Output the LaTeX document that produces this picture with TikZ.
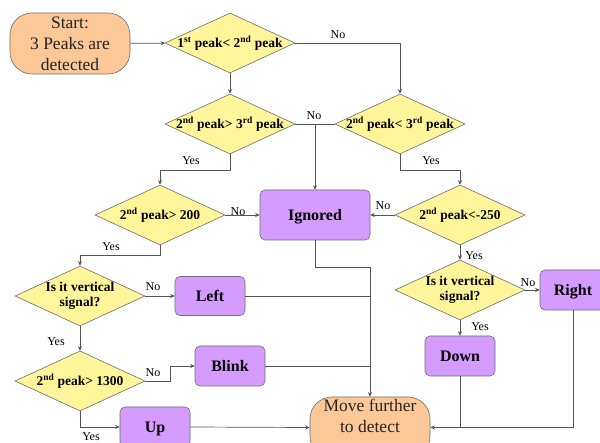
\documentclass[tikz,border=0pt]{standalone}
\usepackage{fontspec}
\setmainfont{Liberation Serif}
\usetikzlibrary{shapes.geometric,arrows.meta}
\definecolor{termc}{HTML}{FCC897}
\definecolor{decc}{HTML}{FFF59A}
\definecolor{actc}{HTML}{D69BFF}
\definecolor{edgec}{HTML}{555555}
\definecolor{bordc}{HTML}{6E6E6E}
\begin{document}
\begin{tikzpicture}[x=1pt,y=-1pt,
  dia/.style={diamond,draw=bordc,fill=decc,minimum width=130pt,minimum height=60pt,inner sep=0pt,line width=0.6pt},
  diatext/.style={font=\fontsize{13.5}{15}\selectfont\bfseries,align=center,inner sep=0pt},
  actbox/.style={rectangle,rounded corners=5pt,draw=bordc,fill=actc,minimum width=70pt,minimum height=40pt,inner sep=0pt,line width=0.6pt,font=\fontsize{16}{18}\selectfont\bfseries,text height=11pt,text depth=0pt},
  termbox/.style={rectangle,rounded corners=22pt,draw=bordc,fill=termc,minimum width=120pt,minimum height=61pt,inner sep=0pt,line width=0.6pt},
  termtext/.style={font=\fontsize{17.5}{21}\selectfont,align=center,text=black!85,inner sep=0pt},
  lbl/.style={font=\fontsize{12}{14}\selectfont,inner sep=0pt},
  ln/.style={draw=edgec,line width=0.7pt},
  arr/.style={ln,-{Stealth[length=4.5pt,width=4pt]}}]
\clip (0,0) rectangle (600,443);
\fill[white] (0,0) rectangle (600,443);

% terminals
\node[termbox] (start) at (70,43.5) {};
\node[termtext] at (start) {Start:\\3 Peaks are\\detected};
\node[termbox] (move) at (370,427.5) {};
\node[termtext,anchor=north] at (370,399) {Move further\\to detect};

% decisions
\node[dia] (d1) at (230,43) {};
\node[diatext] at (d1) {1\textsuperscript{st} peak< 2\textsuperscript{nd} peak};
\node[dia] (d2) at (230,124) {};
\node[diatext] at (d2) {2\textsuperscript{nd} peak> 3\textsuperscript{rd} peak};
\node[dia] (d3) at (400,124) {};
\node[diatext] at (d3) {2\textsuperscript{nd} peak< 3\textsuperscript{rd} peak};
\node[dia] (d4) at (160,215) {};
\node[diatext] at (d4) {2\textsuperscript{nd} peak> 200};
\node[dia] (d5) at (460,215) {};
\node[diatext] at (d5) {2\textsuperscript{nd} peak<-250};
\node[dia] (d6) at (80,296) {};
\node[diatext] at (d6) {Is it vertical\\signal?};
\node[dia] (d7) at (460,290) {};
\node[diatext] at (d7) {Is it vertical\\signal?};
\node[dia] (d8) at (80,381) {};
\node[diatext] at (d8) {2\textsuperscript{nd} peak> 1300};

% actions
\node[actbox,minimum width=110pt,minimum height=50pt] (ign) at (315,215) {Ignored};
\node[actbox,minimum height=39pt] (left) at (210,296) {Left};
\node[actbox,minimum width=66pt] (right) at (573,290) {Right};
\node[actbox] (down) at (460,356) {Down};
\node[actbox] (blink) at (230,366) {Blink};
\node[actbox] (up) at (155,427) {Up};

% junctions
\coordinate (j1) at (315,124);
\coordinate (j2) at (370,267);

% connectors
\draw[arr] (start) -- (d1);
\draw[arr] (d1.east) -| (d3.north);
\draw[arr] (d1.south) -- (d2.north);
\draw[ln] (d2.east) -- (d3.west);
\draw[arr] (j1) -- (ign.north);
\draw[arr] (d2.south) -- ++(0,16) -| (d4.north);
\draw[arr] (d3.south) -- ++(0,16) -| (d5.north);
\draw[arr] (d4.east) -- (ign.west);
\draw[arr] (d5.west) -- (ign.east);
\draw[arr] (d4.south) -- ++(0,10) -| (d6.north);
\draw[arr] (d5.south) -- (d7.north);
\draw[arr] (d6.east) -- (left.west);
\draw[arr] (d7.east) -- (right.west);
\draw[arr] (d6.south) -- (d8.north);
\draw[arr] (d7.south) -- (down.north);
\draw[arr] (d8.east) -- ++(25,0) |- (blink.west);
\draw[arr] (d8.south) |- (up.west);
\draw[arr] (up.east) -- (move.west);
\draw[arr] (ign.south) |- (j2) -- (move.north);
\draw[ln] (left.east) -- (left.east -| j2);
\draw[ln] (blink.east) -- (blink.east -| j2);
\draw[arr] (down.south) |- (move.east);
\draw[ln] (right.south) |- (down.south |- move.east);

% labels
\node[lbl] at (338,35) {No};
\node[lbl] at (191,161) {Yes};
\node[lbl] at (314,116) {No};
\node[lbl] at (431,161) {Yes};
\node[lbl] at (238,212) {No};
\node[lbl] at (111,247) {Yes};
\node[lbl] at (153,287) {No};
\node[lbl] at (383,206) {No};
\node[lbl] at (474,256) {Yes};
\node[lbl] at (528,283) {No};
\node[lbl] at (56,342) {Yes};
\node[lbl] at (153,373) {No};
\node[lbl] at (91,437) {Yes};
\node[lbl] at (480,327) {Yes};
\end{tikzpicture}
\end{document}
